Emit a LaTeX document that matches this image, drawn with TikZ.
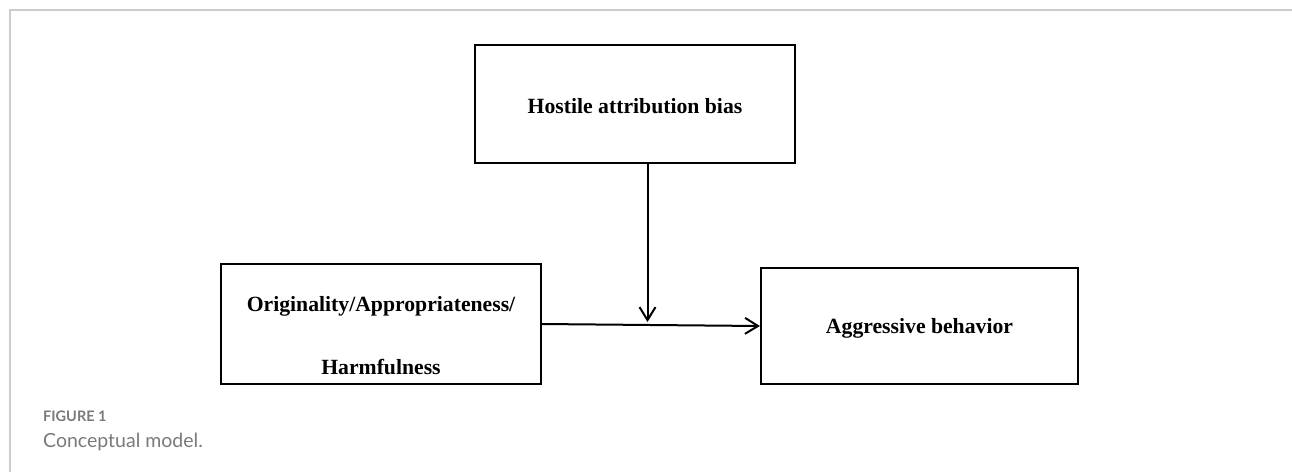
\documentclass[tikz,border=0pt]{standalone}
\usepackage{fontspec}
\setmainfont{Liberation Serif}
\newfontfamily\capfont{Lato}
\usetikzlibrary{arrows.meta}
\definecolor{framegray}{HTML}{CCCCCC}
\definecolor{capgray}{HTML}{7A7A7A}
\tikzset{
  box/.style={draw=black, line width=2.2pt, rectangle, inner sep=0pt},
  txt/.style={font=\fontsize{21.7}{24}\selectfont\bfseries, inner sep=0pt},
  arr/.style={draw=black, line width=2pt, -{Straight Barb[length=13pt,width=16pt,line width=2pt]}},
  frame/.style={draw=framegray, line width=2pt},
}
\begin{document}
\begin{tikzpicture}[x=1pt,y=-1pt]
\useasboundingbox (0,0) rectangle (1292,472);
% frame
\coordinate (f1) at (1292,10);
\coordinate (f2) at (10,10);
\coordinate (f3) at (10,472);
\draw[frame] (f1) -- (f2) -- (f3);
% boxes
\node[box, minimum width=320pt, minimum height=118pt] (host) at (635,104) {};
\node[box, minimum width=320pt, minimum height=120pt] (orig) at (381,324) {};
\node[box, minimum width=317pt, minimum height=116pt] (aggr) at (919.5,326) {};
% texts
\node[txt, anchor=base] (thost) at (635,113) {Hostile attribution bias};
\node[txt, anchor=base] (torig1) at (381,311.7) {Originality/Appropriateness/};
\node[txt, anchor=base] (torig2) at (381,374) {Harmfulness};
\node[txt, anchor=base] (taggr) at (919.5,333) {Aggressive behavior};
% connectors
\coordinate (hs) at (647.5,163);
\coordinate (mid) at (647.5,322);
\draw[arr] (hs) -- (mid);
\draw[arr] (orig.east) -- (aggr.west);
% caption
\node[anchor=base west, inner sep=0pt, text=capgray, font=\capfont\fontsize{14.5}{16}\selectfont\bfseries] (fig) at (43,421.7) {FIGURE 1};
\node[anchor=base west, inner sep=0pt, text=capgray, font=\capfont\fontsize{19.5}{22}\selectfont] (cap) at (43,447.7) {Conceptual model.};
\end{tikzpicture}
\end{document}
